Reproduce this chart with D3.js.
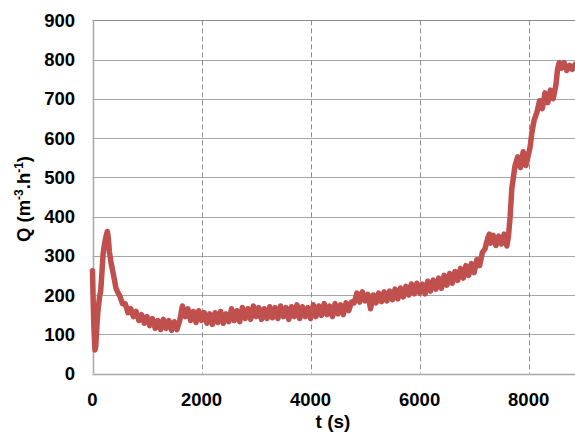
<!DOCTYPE html>
<html>
<head>
<meta charset="utf-8">
<script src="https://cdn.jsdelivr.net/npm/d3@7"></script>
<style>
  html, body { margin: 0; padding: 0; background: #fff; overflow: hidden; }
  svg { display: block; }
  text { font-family: Arial, "Liberation Sans", sans-serif; font-weight: bold; fill: #000; }
</style>
</head>
<body>
<div id="chart"></div>
<script>
// ---- data ----
const timeS = [0,10,25,45,60,80,100,130,150,170,195,220,250,272,290,310,340,370,400,430,460,500,550,
  600,650,700,750,800,850,900,950,1000,1050,1100,1150,1200,1250,1300,1350,1400,1450,1500,1550,1600,1650,1700,1750,1800,1850,1900,1950,
  2000,2050,2100,2150,2200,2250,2300,2350,2400,2450,2500,2550,2600,2650,2700,2750,2800,2850,2900,2950,
  3000,3050,3100,3150,3200,3250,3300,3350,3400,3450,3500,3550,3600,3650,3700,3750,3800,3850,3900,3950,
  4000,4050,4100,4150,4200,4250,4300,4350,4400,4450,4500,4550,4600,4650,4700,4750,4800,4850,4900,4950,
  5000,5050,5100,5150,5200,5250,5300,5350,5400,5450,5500,5550,5600,5650,5700,5750,5800,5850,5900,5950,
  6000,6050,6100,6150,6200,6250,6300,6350,6400,6450,6500,6550,6600,6650,6700,6750,6800,6850,6900,6950,
  7000,7050,7100,7150,7200,7250,7280,7300,7350,7400,7450,7500,7550,7600,7630,7660,7690,7720,7750,
  7800,7850,7900,7950,8000,8030,8060,8100,8150,8200,8250,8300,8350,8400,8450,8500,8530,8560,
  8600,8650,8700,8750,8800,8850];
const flowQ = [262,200,120,60,70,120,160,196,210,250,305,330,350,362,345,310,282,262,240,218,208,198,178,
  178,155,165,145,158,135,150,128,145,122,140,115,135,112,138,115,135,110,132,112,135,172,145,165,135,158,130,160,
  135,155,128,152,125,155,130,158,128,152,132,165,135,160,132,168,140,165,138,172,
  145,168,138,165,140,170,142,168,140,172,145,168,138,170,145,175,140,170,145,168,
  140,175,145,172,148,178,150,172,145,178,152,175,150,180,160,182,180,205,182,208,
  185,202,165,200,180,205,183,208,185,210,188,215,190,218,195,222,200,228,203,230,
  205,228,203,235,210,238,215,243,217,250,225,255,230,260,237,268,243,275,250,280,
  257,290,275,308,318,345,355,332,352,326,350,330,355,325,350,400,470,500,530,
  552,525,565,530,560,580,615,645,665,695,675,715,690,722,700,735,775,792,
  778,792,772,785,775,788];
const yTicks = [0,100,200,300,400,500,600,700,800,900];
const xTicks = [0,2000,4000,6000,8000];

const W = 575, H = 434;
const svg = d3.select("#chart").append("svg").attr("width", W).attr("height", H);

const x = d3.scaleLinear().domain([0, 8850]).range([92.5, 575]);
const y = d3.scaleLinear().domain([0, 900]).range([373.5, 20.3]);

// horizontal gridlines
svg.append("g").selectAll("line").data(yTicks.filter(d => d > 0)).join("line")
  .attr("x1", x(0)).attr("x2", W)
  .attr("y1", d => Math.round(y(d)) + 0.5).attr("y2", d => Math.round(y(d)) + 0.5)
  .attr("stroke", d => d === 900 ? "#8c8c8c" : "#a6a6a6").attr("stroke-width", 1);

// vertical dashed gridlines
svg.append("g").selectAll("line").data(xTicks.filter(d => d > 0)).join("line")
  .attr("x1", d => Math.round(x(d)) + 0.5).attr("x2", d => Math.round(x(d)) + 0.5)
  .attr("y1", y(900)).attr("y2", y(0))
  .attr("stroke", "#8c8c8c").attr("stroke-width", 1).attr("stroke-dasharray", "5,3");

// axes lines
svg.append("line").attr("x1", Math.round(x(0)) + 0.5).attr("x2", Math.round(x(0)) + 0.5)
  .attr("y1", y(900)).attr("y2", y(0)).attr("stroke", "#a6a6a6").attr("stroke-width", 1.5);
svg.append("line").attr("x1", x(0)).attr("x2", W)
  .attr("y1", Math.round(y(0)) + 0.5).attr("y2", Math.round(y(0)) + 0.5)
  .attr("stroke", "#a6a6a6").attr("stroke-width", 1.5);

// data line
const n = Math.min(timeS.length, flowQ.length);
const pts = timeS.slice(0, n).map((t, i) => [t, flowQ[i]]);
svg.append("path").datum(pts)
  .attr("fill", "none").attr("stroke", "#c0504d").attr("stroke-width", 5.5)
  .attr("stroke-linejoin", "round").attr("stroke-linecap", "round")
  .attr("d", d3.line().x(d => x(d[0])).y(d => y(d[1])));

// y tick labels
svg.append("g").selectAll("text").data(yTicks).join("text")
  .attr("x", 75).attr("y", d => y(d) + 6.5)
  .attr("text-anchor", "end").attr("font-size", 18.5)
  .text(d => d);

// x tick labels
svg.append("g").selectAll("text").data(xTicks).join("text")
  .attr("x", d => x(d)).attr("y", 406)
  .attr("text-anchor", "middle").attr("font-size", 18.5)
  .text(d => d);

// x title
svg.append("text").attr("x", 333).attr("y", 428).attr("text-anchor", "middle")
  .attr("font-size", 19).text("t (s)");

// y title
const yt = svg.append("text").attr("transform", "translate(30,199) rotate(-90)")
  .attr("text-anchor", "middle").attr("font-size", 18.5);
yt.append("tspan").text("Q (m");
yt.append("tspan").attr("dy", -7).attr("font-size", 12).text("-3");
yt.append("tspan").attr("dy", 7).text(".h");
yt.append("tspan").attr("dy", -7).attr("font-size", 12).text("-1");
yt.append("tspan").attr("dy", 7).text(")");
</script>
</body>
</html>
